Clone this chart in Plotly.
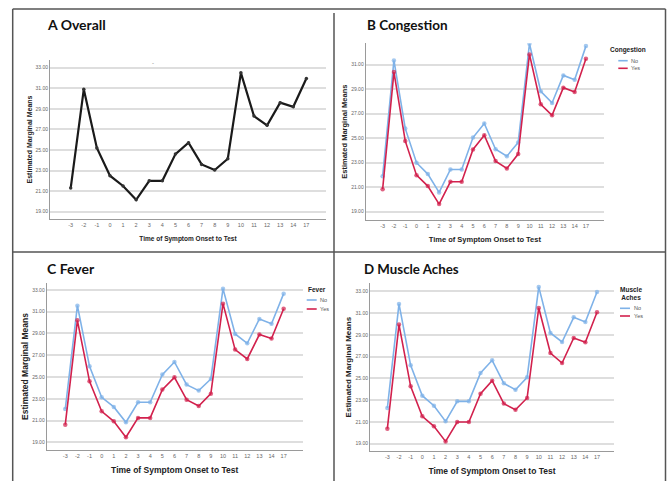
import plotly.graph_objects as go

W, H = 667, 481

# ---------------- data ----------------
days = ["-3", "-2", "-1", "0", "1", "2", "3", "4", "5", "6", "7", "8", "9",
        "10", "11", "12", "13", "14", "17"]

overall = [21.3, 30.9, 25.2, 22.5, 21.5, 20.15, 22.0, 22.0, 24.6, 25.7,
           23.6, 23.05, 24.15, 32.5, 28.3, 27.4, 29.6, 29.2, 31.95]

cong_no = [21.9, 31.35, 25.8, 23.0, 22.07, 20.57, 22.45, 22.45, 25.05, 26.2,
           24.1, 23.53, 24.65, 32.71, 28.83, 27.88, 30.13, 29.78, 32.52]
cong_yes = [20.84, 30.4, 24.78, 21.98, 21.09, 19.62, 21.44, 21.44, 24.08, 25.24,
            23.13, 22.53, 23.7, 31.84, 27.77, 26.87, 29.13, 28.77, 31.49]

fever_no = [22.06, 31.56, 25.98, 23.13, 22.25, 20.84, 22.68, 22.68, 25.22, 26.38,
            24.3, 23.75, 24.82, 33.12, 28.96, 28.1, 30.33, 29.9, 32.66]
fever_yes = [20.62, 30.21, 24.6, 21.85, 20.93, 19.46, 21.24, 21.24, 23.84, 24.97,
             22.92, 22.34, 23.47, 31.74, 27.52, 26.66, 28.9, 28.53, 31.28]

ache_no = [22.28, 31.84, 26.2, 23.41, 22.49, 21.05, 22.89, 22.89, 25.49, 26.66,
           24.54, 23.96, 25.1, 33.4, 29.17, 28.34, 30.61, 30.18, 32.94]
ache_yes = [20.38, 29.94, 24.27, 21.51, 20.59, 19.21, 20.99, 20.99, 23.59, 24.79,
            22.68, 22.12, 23.2, 31.47, 27.33, 26.41, 28.71, 28.31, 31.07]

panel_titles = ["A Overall", "B Congestion", "C Fever", "D Muscle Aches"]
legend_titles = ["Congestion", "Fever", "Muscle<br>Aches"]
group_names = ["No", "Yes"]
x_title = "Time of Symptom Onset to Test"
y_title = "Estimated Marginal Means"

# ---------------- styling ----------------
BLUE = "#7fb2e8"
RED = "#d2214d"
GRID = "#dedede"
AXIS = "#9a9a9a"
TICKC = "#666666"
FONT = "Liberation Sans"

fig = go.Figure()

def add_pair(no, yes, xa, ya):
    for vals, name, col in ((no, group_names[0], BLUE), (yes, group_names[1], RED)):
        fig.add_trace(go.Scatter(
            x=days, y=vals, mode="lines+markers", name=name,
            xaxis=xa, yaxis=ya, showlegend=False,
            line=dict(color=col, width=1.6),
            marker=dict(size=4.5, color=col, opacity=0.7),
        ))

fig.add_trace(go.Scatter(
    x=days, y=overall, mode="lines+markers", name="Overall",
    xaxis="x", yaxis="y", showlegend=False,
    line=dict(color="#1a1a1a", width=2.2),
    marker=dict(size=3.5, color="#333333"),
))
add_pair(cong_no, cong_yes, "x2", "y2")
add_pair(fever_no, fever_yes, "x3", "y3")
add_pair(ache_no, ache_yes, "x4", "y4")

# plot areas in pixels: (left, right, top, bottom)
areas = [(50, 326, 60, 219), (365.7, 604, 43.3, 220),
         (46.7, 302.7, 283, 450), (370, 614, 283, 451.3)]
xranges = [[-1.58, 19.5], [-1.5, 19.6], [-1.53, 19.57], [-1.49, 19.46]]
yranges = [[18.29, 33.75], [18.32, 32.75], [18.29, 33.64], [18.3, 33.76]]
ytickv = [[19, 21, 23, 25, 27, 29, 31, 33], [19, 21, 23, 25, 27, 29, 31],
          [19, 21, 23, 25, 27, 29, 31, 33], [19, 21, 23, 25, 27, 29, 31, 33]]
ytitle_size = [7, 7.5, 8.5, 8]
xtitle_size = [6.5, 7.5, 8.5, 8.5]
xstand = [9, 9, 9, 9]

layout = {}
for i, (l, r, t, b) in enumerate(areas):
    sfx = "" if i == 0 else str(i + 1)
    layout["xaxis" + sfx] = dict(
        domain=[l / W, r / W], anchor="y" + sfx, type="category",
        categoryorder="array", categoryarray=days,
        range=xranges[i], showgrid=False, zeroline=False,
        showline=True, linecolor=AXIS, linewidth=1, ticks="",
        tickfont=dict(family=FONT, size=5.5, color=TICKC),
        title=dict(text="<b>" + x_title + "</b>", standoff=xstand[i],
                   font=dict(family=FONT, size=xtitle_size[i], color="#222")),
        automargin=False, fixedrange=True,
    )
    layout["yaxis" + sfx] = dict(
        domain=[1 - b / H, 1 - t / H], anchor="x" + sfx,
        range=yranges[i], tickvals=ytickv[i], tickformat=".2f",
        showgrid=True, gridcolor=GRID, gridwidth=1.5, zeroline=False,
        showline=True, linecolor=AXIS, linewidth=1, ticks="",
        tickfont=dict(family=FONT, size=5, color=TICKC),
        title=dict(text="<b>" + y_title + "</b>", standoff=2,
                   font=dict(family=FONT, size=ytitle_size[i], color="#222")),
        automargin=False, fixedrange=True,
    )

ann = []
shapes = []

# panel titles
tpos = [(45, 25), (365, 25), (45, 268.5), (362, 268.5)]
tsize = [14, 13.5, 14, 13.3]
for (px, py), txt, sz in zip(tpos, panel_titles, tsize):
    ann.append(dict(text="<b>" + txt + "</b>", x=px / W, y=1 - py / H,
                    xref="paper", yref="paper", xanchor="left", yanchor="middle",
                    showarrow=False,
                    font=dict(family="Lato", size=sz, color="#111")))
ann.append(dict(text="-", x=149.5 / W, y=1 - 57.5 / H, xref="paper", yref="paper",
                showarrow=False, font=dict(family=FONT, size=6, color="#777")))

# legend keys (title centre x, title centre y, swatch x0, x1, row y's)
legends = [
    (628, 50, 618.3, 627.7, (60.7, 68.3)),
    (317, 289, 306.7, 316.7, (300, 309)),
    (630.5, 293.5, 620, 630, (308.3, 316)),
]
for (tx, ty, sx0, sx1, rows), ltitle in zip(legends, legend_titles):
    ann.append(dict(text="<b>" + ltitle + "</b>", x=tx / W, y=1 - ty / H,
                    xref="paper", yref="paper", xanchor="center", yanchor="middle",
                    showarrow=False, align="center",
                    font=dict(family=FONT, size=6.5, color="#222")))
    for ry, name, col in zip(rows, group_names, (BLUE, RED)):
        shapes.append(dict(type="line", xref="paper", yref="paper",
                           x0=sx0 / W, x1=sx1 / W, y0=1 - ry / H, y1=1 - ry / H,
                           line=dict(color=col, width=1.6)))
        ann.append(dict(text=name, x=(sx1 + 1.5) / W, y=1 - ry / H,
                        xref="paper", yref="paper", xanchor="left", yanchor="middle",
                        showarrow=False,
                        font=dict(family=FONT, size=5.5, color="#555")))

# panel border lines
BORD = "#555555"
shapes += [
    dict(type="line", xref="paper", yref="paper", x0=12.7 / W, x1=665.5 / W,
         y0=1 - 9 / H, y1=1 - 9 / H, line=dict(color=BORD, width=1.5)),
    dict(type="line", xref="paper", yref="paper", x0=12.7 / W, x1=12.7 / W,
         y0=1 - 9 / H, y1=0, line=dict(color=BORD, width=1.5)),
    dict(type="line", xref="paper", yref="paper", x0=665.5 / W, x1=665.5 / W,
         y0=1 - 9 / H, y1=0, line=dict(color=BORD, width=1.5)),
    dict(type="line", xref="paper", yref="paper", x0=334 / W, x1=334 / W,
         y0=1 - 13 / H, y1=0, line=dict(color=BORD, width=1.5)),
    dict(type="line", xref="paper", yref="paper", x0=12.7 / W, x1=665.5 / W,
         y0=1 - 252 / H, y1=1 - 252 / H, line=dict(color=BORD, width=1.5)),
]

fig.update_layout(
    width=W, height=H, margin=dict(l=0, r=0, t=0, b=0, autoexpand=False),
    paper_bgcolor="white", plot_bgcolor="white",
    annotations=ann, shapes=shapes, hovermode=False, showlegend=False,
    **layout,
)

fig.write_html("out.html", config={"displayModeBar": False},
               post_script="document.body.style.margin='0';"
                           "document.body.style.overflow='hidden';")
